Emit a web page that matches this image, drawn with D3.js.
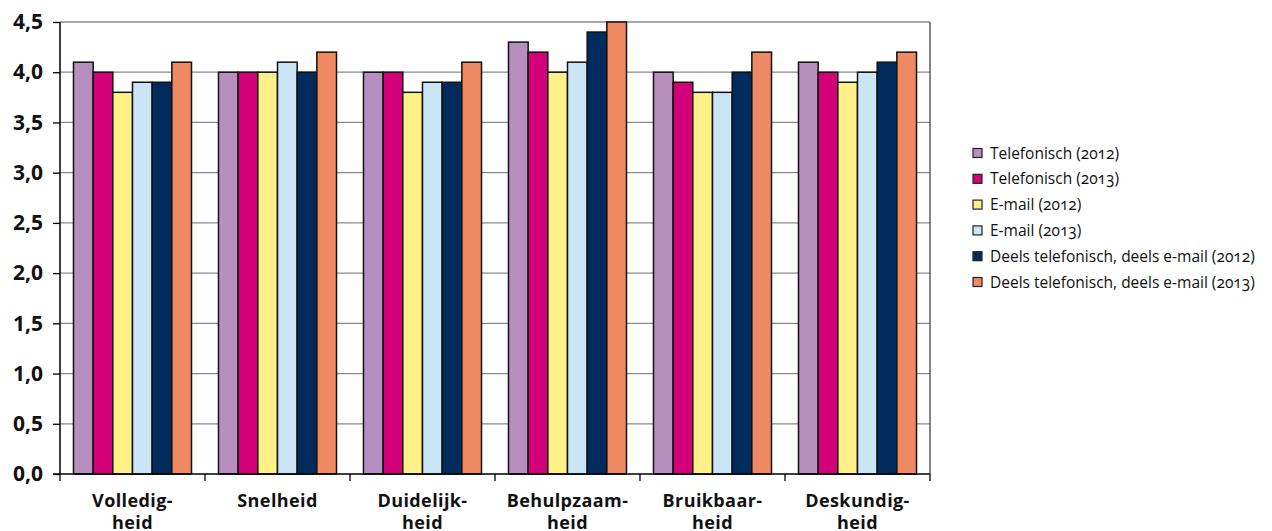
<!DOCTYPE html>
<html><head><meta charset="utf-8">
<script src="https://cdn.jsdelivr.net/npm/d3@7"></script>
<style>
body{margin:0;background:#fff;}
svg{display:block;}
</style></head>
<body><svg id="c" width="1272" height="531"></svg>
<script>
const categories = [["Volledig-","heid"],["Snelheid"],["Duidelijk-","heid"],["Behulpzaam-","heid"],["Bruikbaar-","heid"],["Deskundig-","heid"]];
const seriesNames = ["Telefonisch (2012)","Telefonisch (2013)","E-mail (2012)","E-mail (2013)","Deels telefonisch, deels e-mail (2012)","Deels telefonisch, deels e-mail (2013)"];
const telefonisch2012 = [4.1,4.0,4.0,4.3,4.0,4.1];
const telefonisch2013 = [4.0,4.0,4.0,4.2,3.9,4.0];
const email2012 = [3.8,4.0,3.8,4.0,3.8,3.9];
const email2013 = [3.9,4.1,3.9,4.1,3.8,4.0];
const deels2012 = [3.9,4.0,3.9,4.4,4.0,4.1];
const deels2013 = [4.1,4.2,4.1,4.5,4.2,4.2];
const yTicks = [0,0.5,1,1.5,2,2.5,3,3.5,4,4.5];
const colors = ["#B68FBE","#D3007A","#FFF087","#CAE5F6","#002B5C","#EE8963"];

const series = [telefonisch2012,telefonisch2013,email2012,email2013,deels2012,deels2013];
const svg = d3.select("#c");
const L=60,R=930,T=22,B=474;
const x0 = d3.scaleBand().domain(d3.range(categories.length)).range([L,R]).paddingInner(0.186).paddingOuter(0.093);
const x1 = d3.scaleBand().domain(d3.range(series.length)).range([0,x0.bandwidth()]);
const y = d3.scaleLinear().domain([0,4.5]).range([B,T]);
const outer = d3.scaleBand().domain(d3.range(categories.length)).range([L,R]);

// grid
svg.append("g").selectAll("line").data(yTicks.filter(d=>d>0)).join("line")
  .attr("x1",L).attr("x2",R).attr("y1",d=>y(d)).attr("y2",d=>y(d))
  .attr("stroke","#8a8a8a").attr("stroke-width",1.3);
// right border
svg.append("line").attr("x1",R).attr("x2",R).attr("y1",T).attr("y2",B).attr("stroke","#444").attr("stroke-width",1.3);

// bars
const g = svg.append("g");
series.forEach((s,si)=>{
  g.append("g").selectAll("rect").data(s).join("rect")
   .attr("x",(d,i)=>x0(i)+x1(si)).attr("width",x1.bandwidth())
   .attr("y",d=>y(d)).attr("height",d=>B-y(d))
   .attr("fill",colors[si]).attr("stroke","#111").attr("stroke-width",1.5);
});

// y axis
const yAxis = d3.axisLeft(y).tickValues(yTicks).tickSize(7).tickPadding(10)
  .tickFormat(d=>d3.format(".1f")(d).replace(".",","));
const ya = svg.append("g").attr("transform",`translate(${L},0)`).call(yAxis);
ya.select(".domain").attr("stroke","#000").attr("stroke-width",1.5).attr("d",`M0,${T}V${B}`);
ya.selectAll(".tick line").attr("stroke","#000").attr("stroke-width",1.3);
ya.selectAll("text").attr("font-family","'Open Sans',sans-serif").attr("font-weight","bold").attr("font-size","21px").attr("fill","#111");

// x axis
const xa = svg.append("g").attr("transform",`translate(0,${B})`);
xa.append("line").attr("x1",L-7).attr("x2",R).attr("y1",0).attr("y2",0).attr("stroke","#000").attr("stroke-width",1.5);
xa.selectAll("line.t").data(d3.range(categories.length+1)).join("line").attr("class","t")
  .attr("x1",i=>i<categories.length?outer(i):R).attr("x2",i=>i<categories.length?outer(i):R)
  .attr("y1",0).attr("y2",7).attr("stroke","#000").attr("stroke-width",1.3);
const lab = xa.selectAll("text").data(categories).join("text")
  .attr("text-anchor","middle").attr("font-family","'Open Sans',sans-serif").attr("font-weight","bold")
  .attr("font-size","18px").attr("letter-spacing","0.4px").attr("fill","#111")
  .attr("transform",(d,i)=>`translate(${outer(i)+outer.bandwidth()/2},0)`);
lab.selectAll("tspan").data(d=>d).join("tspan").attr("x",0).attr("y",(d,i)=>33+i*22).text(d=>d);

// legend
const lg = svg.append("g").attr("transform","translate(973,153)");
const li = lg.selectAll("g").data(seriesNames).join("g").attr("transform",(d,i)=>`translate(0,${i*25.8})`);
li.append("rect").attr("x",0).attr("y",-4.5).attr("width",9).attr("height",9)
  .attr("fill",(d,i)=>colors[i]).attr("stroke","#222").attr("stroke-width",1.2);
li.append("text").attr("x",17).attr("y",5.5).text(d=>d)
  .attr("font-family","'Open Sans',sans-serif").attr("font-size","15.5px").attr("fill","#111")
  .style("font-feature-settings","'onum'");
</script></body></html>
